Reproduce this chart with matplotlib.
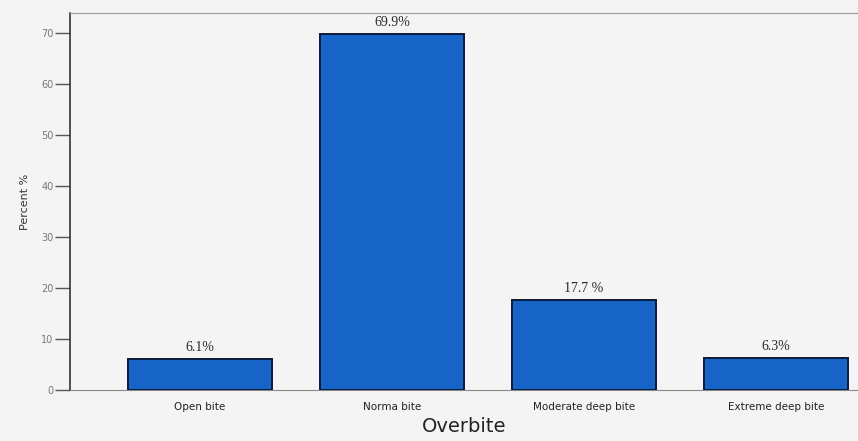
import matplotlib.pyplot as plt
import numpy as np

categories = ["Open bite", "Norma bite", "Moderate deep bite", "Extreme deep bite"]
percent = [6.1, 69.9, 17.7, 6.3]
value_labels = ["6.1%", "69.9%", "17.7 %", "6.3%"]
yticks = [0, 10, 20, 30, 40, 50, 60, 70]

fig = plt.figure(figsize=(8.58, 4.41), dpi=100)
fig.patch.set_facecolor('#f4f4f4')
ax = fig.add_axes([70 / 858, 1 - 390 / 441, 1 - 70 / 858, (390 - 13) / 441])
ax.set_facecolor('#f4f4f4')

x = np.arange(len(categories))
ax.bar(x, percent, width=0.75, color='#1664c6', edgecolor='#0b1a3a', linewidth=1.4, zorder=3)

for xi, v, lab in zip(x, percent, value_labels):
    ax.text(xi, v + 1.0, lab, ha='center', va='bottom', fontsize=10,
            family='Liberation Serif', color='#2a2a2a')

ax.set_xlim(-0.677, 3.427)
ax.set_ylim(0, 74)
ax.set_yticks(yticks)
ax.set_yticklabels([str(t) for t in yticks], fontsize=7, color='#777777')
ax.tick_params(axis='y', direction='out', length=11, width=1, color='#555555', pad=1)
ax.set_xticks(x)
ax.set_xticklabels(categories, fontsize=7.5, color='#222222')
ax.tick_params(axis='x', length=0, pad=9)

ax.spines['right'].set_visible(False)
ax.spines['left'].set_color('#333333')
ax.spines['left'].set_linewidth(1.2)
ax.spines['bottom'].set_color('#888888')
ax.spines['top'].set_color('#999999')
ax.spines['top'].set_linewidth(0.8)

ax.set_ylabel("Percent %", fontsize=8, color='#333333', labelpad=8)
ax.set_xlabel("Overbite", fontsize=14, color='#222222', labelpad=3)

fig.savefig("out.png", dpi=100, facecolor=fig.get_facecolor())
